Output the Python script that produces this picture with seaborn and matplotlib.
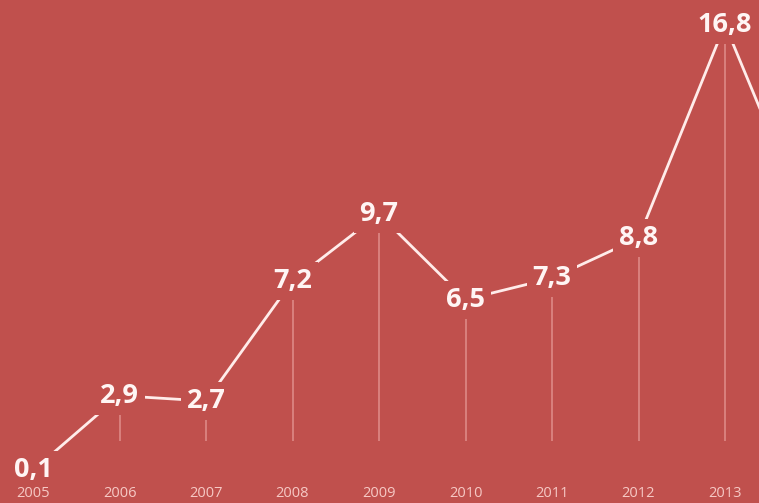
import matplotlib
matplotlib.use("Agg")
import matplotlib.pyplot as plt
import seaborn as sns
import pandas as pd

years = [2005, 2006, 2007, 2008, 2009, 2010, 2011, 2012, 2013, 2014]
values = [0.1, 2.9, 2.7, 7.2, 9.7, 6.5, 7.3, 8.8, 16.8, 9.0]
labels = ["0,1", "2,9", "2,7", "7,2", "9,7", "6,5", "7,3", "8,8", "16,8", ""]
tick_years = [2005, 2006, 2007, 2008, 2009, 2010, 2011, 2012, 2013]

BG = "#C0504D"
sns.set_style("white")
plt.rcParams["font.family"] = ["Open Sans", "DejaVu Sans"]

df = pd.DataFrame({"year": years, "value": values})

fig = plt.figure(figsize=(7.59, 5.03), dpi=100, facecolor=BG)
ax = fig.add_axes([0, 0, 1, 1])
ax.set_facecolor(BG)

sns.lineplot(data=df, x="year", y="value", ax=ax, color="#FFECEA", lw=2.0, zorder=2)

base = 1.21
for y, v, lab in zip(years, values, labels):
    if lab and v > base:
        ax.vlines(y, base, v, color="#EBA3A0", lw=1.1, alpha=0.75, zorder=1)

for y, v, lab in zip(years, values, labels):
    if lab:
        ax.text(y, v, lab, ha="center", va="center", fontsize=19.5, fontweight="bold",
                color="#FFF5F4", zorder=4,
                bbox=dict(boxstyle="square,pad=0.22", fc=BG, ec="none"))

for y in tick_years:
    ax.text(y, -0.76, str(y), ha="center", va="center", fontsize=10.5,
            color="#F6C9C5", zorder=4)

ax.set_xlim(2005 - 33 / 86.5, 2013 + 34 / 86.5)
ax.set_ylim(-1.12, 17.72)
ax.axis("off")

fig.savefig("out.png", dpi=100, facecolor=BG)
